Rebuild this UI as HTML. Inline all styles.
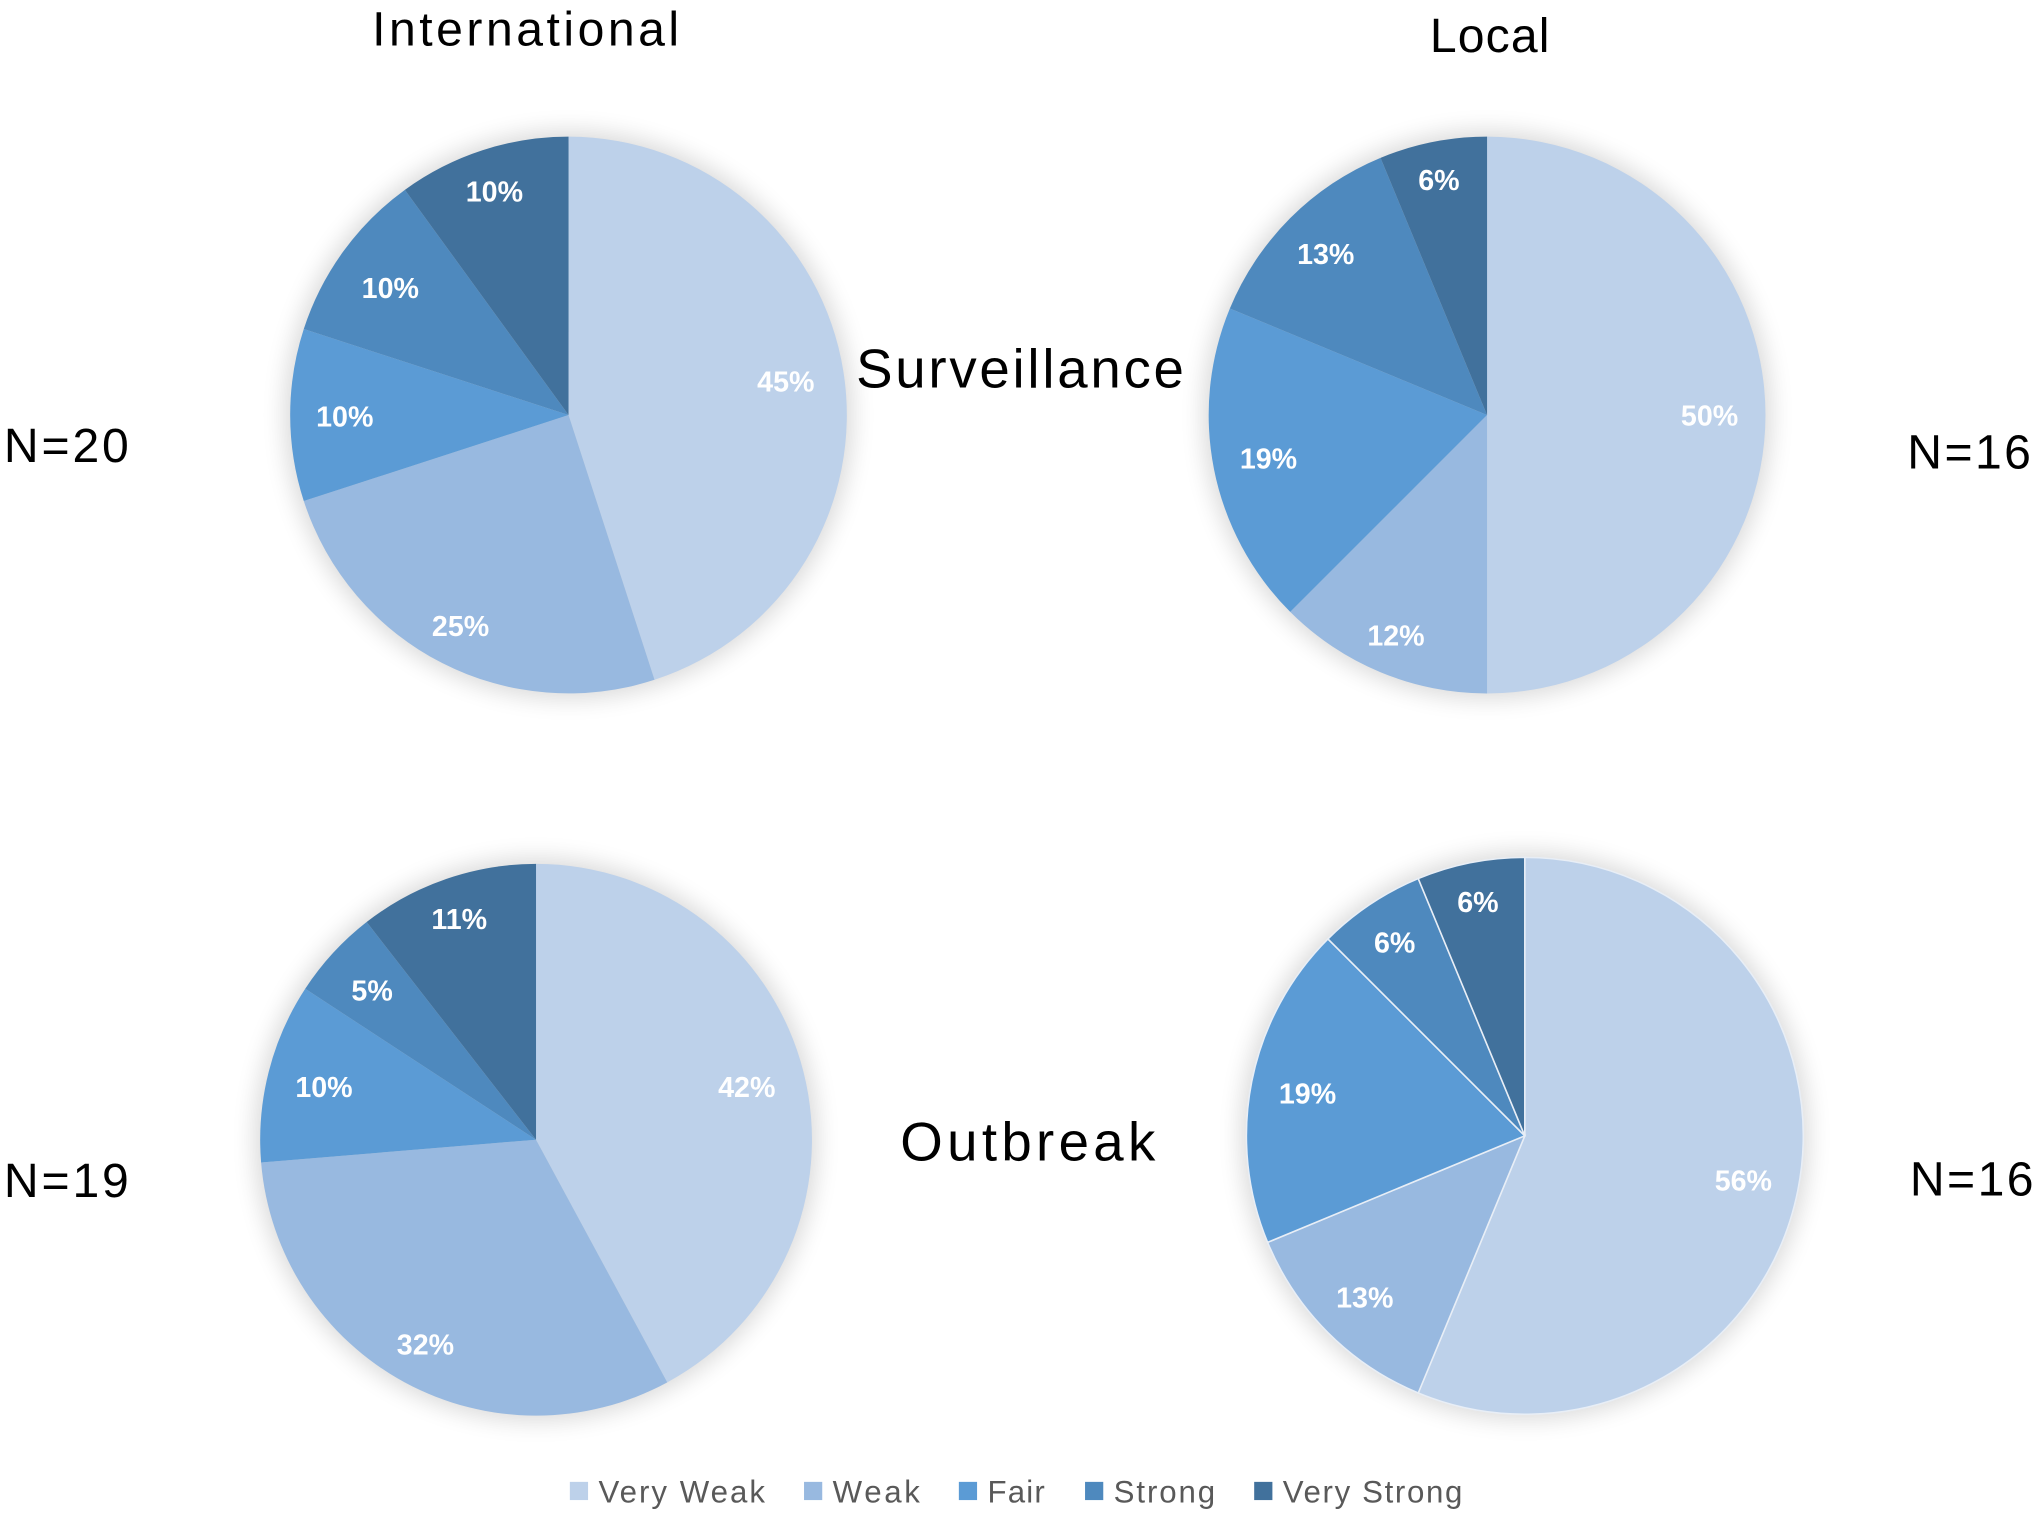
<!DOCTYPE html>
<html><head><meta charset="utf-8"><style>html,body{margin:0;padding:0;background:#fff}svg{display:block}</style></head><body>
<svg width="2040" height="1517" viewBox="0 0 1568 1166" xmlns="http://www.w3.org/2000/svg" font-family="'Liberation Sans', sans-serif">
<defs><filter id="sh" x="-20%" y="-20%" width="140%" height="140%"><feGaussianBlur stdDeviation="9"/></filter></defs>
<circle cx="437" cy="319" r="218" fill="#000" opacity="0.15" filter="url(#sh)"/>
<circle cx="1143" cy="319" r="218" fill="#000" opacity="0.15" filter="url(#sh)"/>
<circle cx="412" cy="876" r="216" fill="#000" opacity="0.15" filter="url(#sh)"/>
<circle cx="1172" cy="873" r="218" fill="#000" opacity="0.15" filter="url(#sh)"/>
<g>
<path d="M437,319 L437,105 A214,214 0 0 1 503.1,522.5 Z" fill="#bdd1ea"/>
<path d="M437,319 L503.1,522.5 A214,214 0 0 1 233.5,385.1 Z" fill="#98b9e0"/>
<path d="M437,319 L233.5,385.1 A214,214 0 0 1 233.5,252.9 Z" fill="#5b9bd5"/>
<path d="M437,319 L233.5,252.9 A214,214 0 0 1 311.2,145.9 Z" fill="#4e89be"/>
<path d="M437,319 L311.2,145.9 A214,214 0 0 1 437,105 Z" fill="#41719c"/>

<path d="M1143,319 L1143,105 A214,214 0 0 1 1143,533 Z" fill="#bdd1ea"/>
<path d="M1143,319 L1143,533 A214,214 0 0 1 991.7,470.3 Z" fill="#98b9e0"/>
<path d="M1143,319 L991.7,470.3 A214,214 0 0 1 945.3,237.1 Z" fill="#5b9bd5"/>
<path d="M1143,319 L945.3,237.1 A214,214 0 0 1 1061.1,121.3 Z" fill="#4e89be"/>
<path d="M1143,319 L1061.1,121.3 A214,214 0 0 1 1143,105 Z" fill="#41719c"/>

<path d="M412,876 L412,664 A212,212 0 0 1 512.9,1062.5 Z" fill="#bdd1ea"/>
<path d="M412,876 L512.9,1062.5 A212,212 0 0 1 200.7,893.5 Z" fill="#98b9e0"/>
<path d="M412,876 L200.7,893.5 A212,212 0 0 1 234.6,760 Z" fill="#5b9bd5"/>
<path d="M412,876 L234.6,760 A212,212 0 0 1 281.8,708.7 Z" fill="#4e89be"/>
<path d="M412,876 L281.8,708.7 A212,212 0 0 1 412,664 Z" fill="#41719c"/>

<g stroke="#e8eef6" stroke-width="1.2">
<path d="M1172,873 L1172,659 A214,214 0 1 1 1090.1,1070.7 Z" fill="#bdd1ea"/>
<path d="M1172,873 L1090.1,1070.7 A214,214 0 0 1 974.3,954.9 Z" fill="#98b9e0"/>
<path d="M1172,873 L974.3,954.9 A214,214 0 0 1 1020.7,721.7 Z" fill="#5b9bd5"/>
<path d="M1172,873 L1020.7,721.7 A214,214 0 0 1 1090.1,675.3 Z" fill="#4e89be"/>
<path d="M1172,873 L1090.1,675.3 A214,214 0 0 1 1172,659 Z" fill="#41719c"/>
</g>
</g>
<g font-size="37" fill="#000">
<text x="404" y="35" text-anchor="middle" textLength="236">International</text>
<text x="1145" y="40" text-anchor="middle" textLength="92">Local</text>
<text x="784" y="298" text-anchor="middle" font-size="42" textLength="252">Surveillance</text>
<text x="790" y="892" text-anchor="middle" font-size="42" textLength="196">Outbreak</text>
<text x="3" y="355" textLength="96">N=20</text>
<text x="1466" y="360" textLength="95">N=16</text>
<text x="3" y="920" textLength="96">N=19</text>
<text x="1468" y="919" textLength="95">N=16</text>
</g>
<g font-size="24" fill="#595959">
<rect x="438" y="1139" width="14" height="14" fill="#bdd1ea"/><text x="460" y="1155" textLength="128">Very Weak</text>
<rect x="618" y="1139" width="14" height="14" fill="#98b9e0"/><text x="640" y="1155" textLength="67">Weak</text>
<rect x="737" y="1139" width="14" height="14" fill="#5b9bd5"/><text x="759" y="1155" textLength="44">Fair</text>
<rect x="834" y="1139" width="14" height="14" fill="#4e89be"/><text x="856" y="1155" textLength="78">Strong</text>
<rect x="964" y="1139" width="14" height="14" fill="#41719c"/><text x="986" y="1155" textLength="138">Very Strong</text>
</g>
<g font-size="22" font-weight="bold" fill="#fff" text-anchor="middle">
<text x="604" y="301">45%</text><text x="354" y="489">25%</text><text x="265" y="328">10%</text><text x="300" y="229">10%</text><text x="380" y="155">10%</text>
<text x="1314" y="327">50%</text><text x="1073" y="496">12%</text><text x="975" y="360">19%</text><text x="1019" y="203">13%</text><text x="1106" y="146">6%</text>
<text x="574" y="843">42%</text><text x="327" y="1041">32%</text><text x="249" y="843">10%</text><text x="286" y="769">5%</text><text x="353" y="714">11%</text>
<text x="1340" y="915">56%</text><text x="1049" y="1005">13%</text><text x="1005" y="848">19%</text><text x="1072" y="732">6%</text><text x="1136" y="701">6%</text>
</g>
</svg>
</body></html>
